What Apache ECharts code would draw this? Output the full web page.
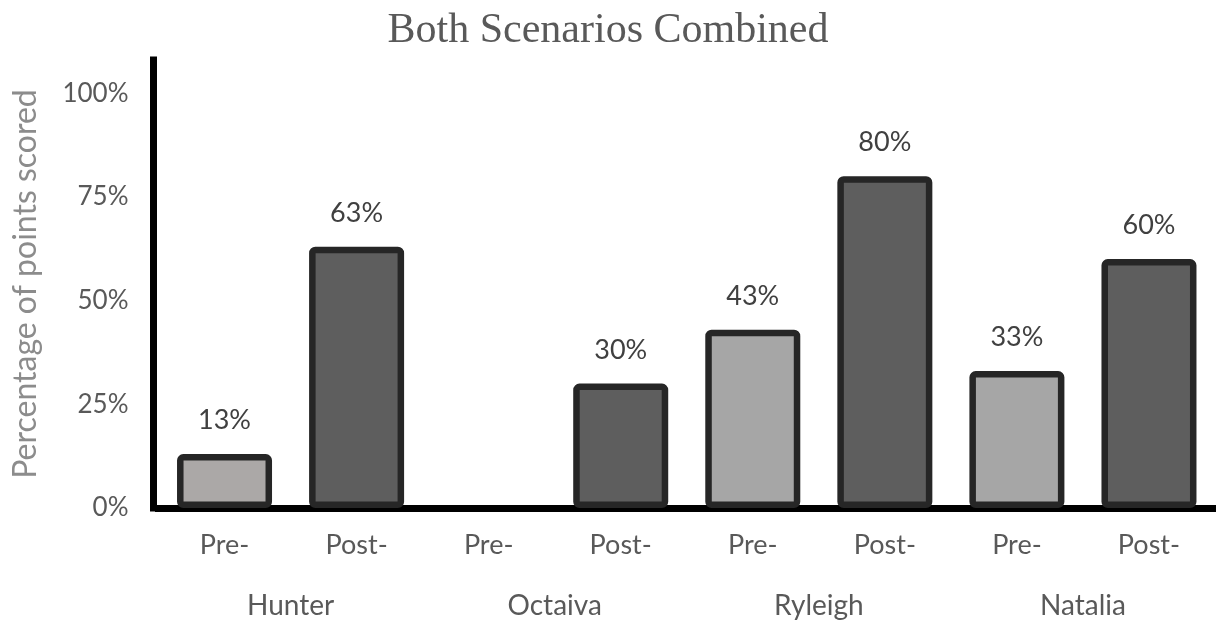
<!DOCTYPE html>
<html><head><meta charset="utf-8">
<script src="https://cdn.jsdelivr.net/npm/echarts@6/dist/echarts.min.js"></script>
<style>html,body{margin:0;padding:0;background:#fff}#c{width:1216px;height:620px}</style>
</head><body><div id="c"></div>
<script>
const phases = ['Pre-','Post-','Pre-','Post-','Pre-','Post-','Pre-','Post-'];
const students = ['Hunter','Octaiva','Ryleigh','Natalia'];
const scores = [13, 63, null, 30, 43, 80, 33, 60];
const yTicks = [0, 25, 50, 75, 100];

const fillColors = ['#aba8a7','#5e5e5e','#a6a6a6','#5e5e5e','#a6a6a6','#5e5e5e','#a6a6a6','#5e5e5e'];
const font = 'Lato, "Open Sans", sans-serif';

const chart = echarts.init(document.getElementById('c'));
chart.setOption({
  animation: false,
  backgroundColor: '#fff',
  title: {
    text: 'Both Scenarios Combined',
    left: 'center', top: 5,
    textStyle: { fontFamily: '"Liberation Serif", "DejaVu Serif", serif', fontSize: 42, fontWeight: 'normal', color: '#595959' }
  },
  grid: { left: 158.5, right: 1, top: 60, bottom: 108, containLabel: false },
  xAxis: [{
    type: 'category', data: phases, offset: 4,
    axisLine: { show: true, lineStyle: { color: '#000', width: 7, cap: 'square' } },
    axisTick: { show: false },
    axisLabel: { fontFamily: font, fontSize: 27, color: '#595959', margin: 20 }
  }, {
    type: 'category', data: students, position: 'bottom', offset: 4,
    axisLine: { show: false }, axisTick: { show: false },
    axisLabel: { fontFamily: font, fontSize: 28, color: '#595959', margin: 80 }
  }],
  yAxis: {
    type: 'value', min: 0, max: 108, interval: 25, offset: 5,
    name: 'Percentage of points scored', nameLocation: 'middle', nameGap: 112,
    nameTextStyle: { fontFamily: font, fontSize: 32, color: '#8c8c8c' },
    axisLine: { show: true, lineStyle: { color: '#000', width: 7, cap: 'square' } },
    axisTick: { show: false },
    splitLine: { show: false },
    axisLabel: {
      fontFamily: font, fontSize: 26, color: '#595959', margin: 25,
      formatter: v => yTicks.includes(v) ? v + '%' : ''
    }
  },
  series: [{
    type: 'bar', xAxisIndex: 0,
    data: scores.map((v, i) => ({ value: v, itemStyle: { color: fillColors[i] } })),
    barWidth: 95,
    itemStyle: { borderColor: '#262626', borderWidth: 6.5, borderRadius: 3 },
    label: {
      show: true, position: 'top', distance: 20,
      fontFamily: font, fontSize: 27, color: '#404040',
      formatter: p => p.value == null ? '' : p.value + '%'
    }
  }]
});
</script></body></html>
